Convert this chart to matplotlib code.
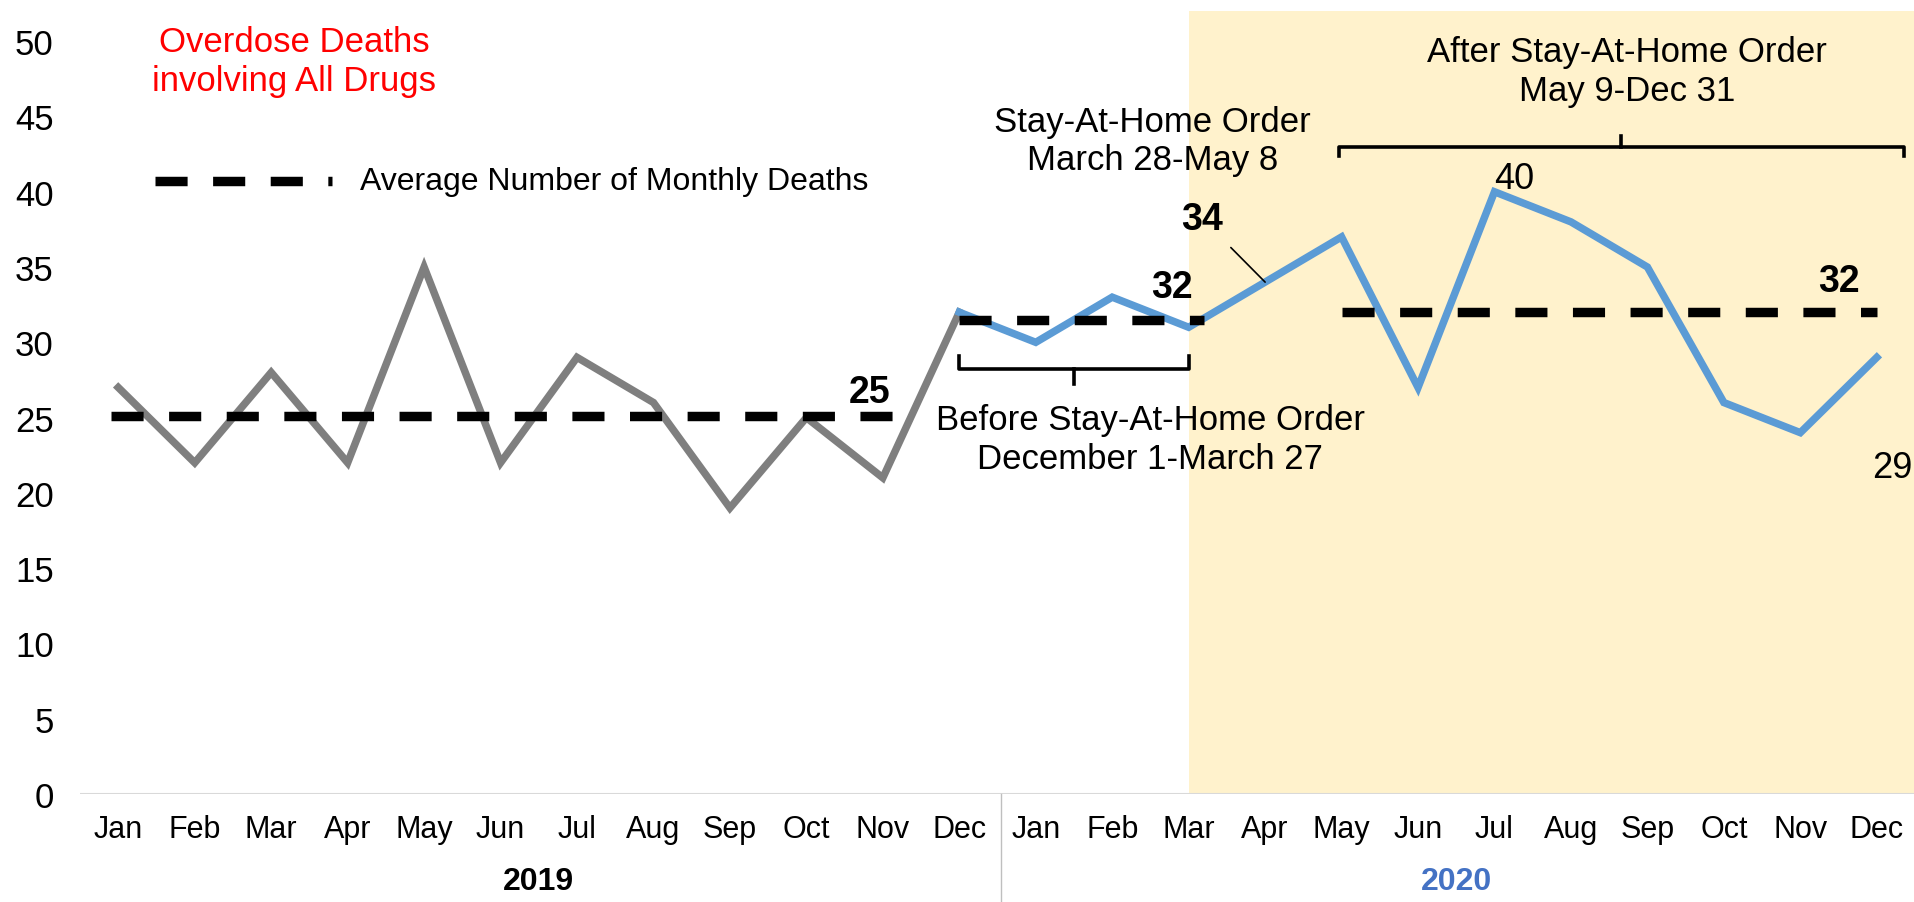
import matplotlib
matplotlib.use("Agg")
import matplotlib.pyplot as plt

plt.rcParams['font.family'] = ['Liberation Sans', 'DejaVu Sans']

# monthly overdose deaths
months = ['Jan', 'Feb', 'Mar', 'Apr', 'May', 'Jun', 'Jul', 'Aug', 'Sep', 'Oct', 'Nov', 'Dec']
years = ['2019', '2020']
deaths_2019 = [27, 22, 28, 22, 35, 22, 29, 26, 19, 25, 21, 32]
deaths_2020 = [30, 33, 31, 34, 37, 27, 40, 38, 35, 26, 24, 29]

# average monthly deaths per period: value, first and last month index
avg_values = [25.1, 31.5, 32]
avg_spans = [(-0.1, 10.25), (11, 14.2), (16, 23)]
avg_labels = ['25', '32', '32']

GRAY = '#7F7F7F'
BLUE = '#5B9BD5'
SHADE = '#FFF2CC'
DASH = (3.4, 2.7)

fig = plt.figure(figsize=(19.15, 9.03), dpi=100)
ax = fig.add_axes([0.0418, 0.1196, 0.9582, 0.867])

n = len(months) * len(years)
x_2019 = list(range(len(months)))
x_2020 = list(range(len(months) - 1, n))

ax.axvspan(14, n - 0.5, color=SHADE, zorder=0, lw=0)
ax.axhline(0, color='#D9D9D9', lw=2.2, zorder=1)

ax.plot(x_2019, deaths_2019, color=GRAY, lw=5.4, zorder=3, solid_joinstyle='miter')
ax.plot(x_2020, [deaths_2019[-1]] + deaths_2020, color=BLUE, lw=5.4, zorder=3,
        solid_joinstyle='miter')

for val, (x0, x1) in zip(avg_values, avg_spans):
    ax.plot([x0, x1], [val, val], color='black', lw=6.8, dashes=DASH,
            dash_capstyle='butt', zorder=4)

# legend sample
ax.plot([0.48, 2.8], [40.7, 40.7], color='black', lw=6.8, dashes=DASH,
        dash_capstyle='butt', zorder=4)
ax.text(3.16, 40.7, 'Average Number of Monthly Deaths', fontsize=23, va='center', ha='left')

ax.text(2.3, 48.7, 'Overdose Deaths\ninvolving All Drugs', color='red', fontsize=25,
        ha='center', va='center', linespacing=1.22)

# average labels
ax.text(9.83, 26.7, avg_labels[0], fontsize=27, fontweight='bold', ha='center', va='center')
ax.text(13.78, 33.7, avg_labels[1], fontsize=27, fontweight='bold', ha='center', va='center')
ax.text(22.5, 34.1, avg_labels[2], fontsize=27, fontweight='bold', ha='center', va='center')

# point labels
ax.annotate(str(deaths_2020[3]), xy=(15, deaths_2020[3]), xytext=(14.18, 38.2),
            fontsize=27, fontweight='bold', ha='center', va='center',
            arrowprops=dict(arrowstyle='-', color='black', lw=1.2, shrinkA=8, shrinkB=0))
ax.text(18.0, 40.9, str(deaths_2020[6]), fontsize=26, ha='left', va='center')
ax.text(23.2, 21.7, str(deaths_2020[11]), fontsize=26, ha='center', va='center')

# period brackets
def bracket(x0, x1, y, tip, mid):
    xm = (x0 + x1) / 2
    ax.plot([x0, x0, x1, x1], [y + tip, y, y, y + tip], color='black', lw=2.6,
            solid_joinstyle='round', zorder=5)
    ax.plot([xm, xm], [y, y + mid], color='black', lw=2.6, zorder=5)

bracket(11.0, 14.0, 28.2, 0.9, -1.0)
bracket(15.96, 23.35, 43.0, -0.6, 0.7)

ax.text(13.5, 23.6, 'Before Stay-At-Home Order\nDecember 1-March 27', fontsize=25,
        ha='center', va='center', linespacing=1.22)
ax.text(13.53, 43.4, 'Stay-At-Home Order\nMarch 28-May 8', fontsize=25,
        ha='center', va='center', linespacing=1.22)
ax.text(19.73, 48.0, 'After Stay-At-Home Order\nMay 9-Dec 31', fontsize=25,
        ha='center', va='center', linespacing=1.22)

ax.set_xlim(-0.5, n - 0.5)
ax.set_ylim(0, 52)
ax.set_yticks(range(0, 51, 5))
ax.tick_params(axis='y', length=0, pad=19, labelsize=25)
ax.set_xticks([])
for s in ax.spines.values():
    s.set_visible(False)

# category axis: months then years
xt = ax.get_xaxis_transform()
for i in range(n):
    ax.text(i, -0.045, months[i % 12], transform=xt, fontsize=22, ha='center', va='center')
ax.text(5.5, -0.111, years[0], transform=xt, fontsize=23, fontweight='bold',
        ha='center', va='center')
ax.text(17.5, -0.111, years[1], transform=xt, fontsize=23, fontweight='bold',
        color='#4472C4', ha='center', va='center')
ax.plot([11.54, 11.54], [0, -0.14], transform=xt, color='#BFBFBF', lw=1, clip_on=False)

fig.savefig('out.png', dpi=100)
